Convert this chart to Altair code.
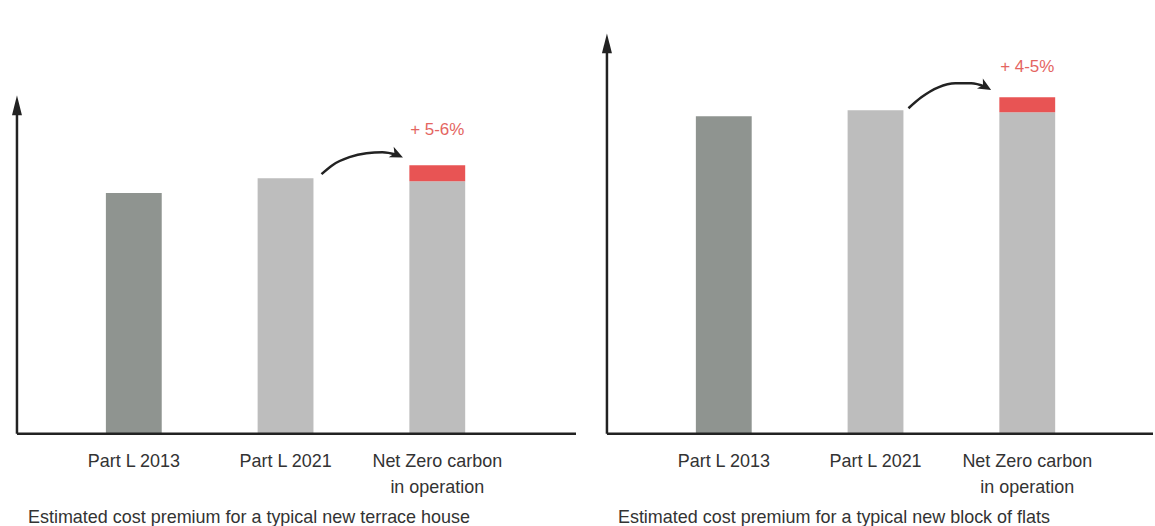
import altair as alt
import pandas as pd

# ---- data ----
categories = ["Part L 2013", "Part L 2021", "Net Zero carbon\nin operation"]
bar_colors = ["#8f9490", "#bdbdbd", "#bdbdbd"]
premium_color = "#e85454"

terrace_base = [241, 256, 253]
terrace_premium = [0, 0, 16]
terrace_pct = "+ 5-6%"
terrace_caption = "Estimated cost premium for a typical new terrace house"
terrace_axis_top = 339
terrace_pct_y = 304
terrace_arrow_x = [1.237, 1.309, 1.421, 1.533, 1.638, 1.735]
terrace_arrow_y = [260, 269, 277, 281, 282, 279.5]
terrace_arrow_angle = 25

flats_base = [318, 324, 322]
flats_premium = [0, 0, 15]
flats_pct = "+ 4-5%"
flats_caption = "Estimated cost premium for a typical new block of flats"
flats_axis_top = 401
flats_pct_y = 367
flats_arrow_x = [1.217, 1.302, 1.414, 1.526, 1.631, 1.725]
flats_arrow_y = [326, 337, 347, 351, 351, 347.5]
flats_arrow_angle = 30

FONT = "Liberation Sans"
INK = "#222222"
TEXT = "#333333"
PX_PER_UNIT = 152
LEFT = -0.77
HEIGHT = 414
HALF = 0.184


def panel(base, premium, pct, pct_y, caption, width, axis_top, ax, ay, angle):
    xs = alt.Scale(domain=[LEFT, width / PX_PER_UNIT + LEFT], nice=False, zero=False)
    ys = alt.Scale(domain=[0, HEIGHT], nice=False, zero=False)

    rows = []
    for i, (b, p) in enumerate(zip(base, premium)):
        rows.append(dict(x0=i - HALF, x1=i + HALF, y0=0, y1=b, color=bar_colors[i]))
        if p > 0:
            rows.append(dict(x0=i - HALF, x1=i + HALF, y0=b, y1=b + p, color=premium_color))
    bars = alt.Chart(pd.DataFrame(rows)).mark_bar().encode(
        x=alt.X("x0:Q", scale=xs, axis=None),
        x2="x1",
        y=alt.Y("y0:Q", scale=ys, axis=None),
        y2="y1",
        color=alt.Color("color:N", scale=None),
    )

    xend = width / PX_PER_UNIT + LEFT
    xaxis = alt.Chart(pd.DataFrame({"x0": [LEFT], "x1": [xend], "y0": [0]})).mark_rule(
        color=INK, strokeWidth=2.5).encode(
        x=alt.X("x0:Q", scale=xs, axis=None), x2="x1",
        y=alt.Y("y0:Q", scale=ys, axis=None))
    yaxis = alt.Chart(pd.DataFrame({"x0": [LEFT], "y0": [0], "y1": [axis_top - 12]})).mark_rule(
        color=INK, strokeWidth=2.5).encode(
        x=alt.X("x0:Q", scale=xs, axis=None),
        y=alt.Y("y0:Q", scale=ys, axis=None), y2="y1")
    yhead = alt.Chart(pd.DataFrame({"x0": [LEFT], "y0": [axis_top - 10]})).mark_point(
        shape="M0,-1L0.5,1L-0.5,1Z", size=400, filled=True, opacity=1, color=INK, strokeWidth=0).encode(
        x=alt.X("x0:Q", scale=xs, axis=None),
        y=alt.Y("y0:Q", scale=ys, axis=None))

    curve = alt.Chart(pd.DataFrame({"x0": ax, "y0": ay})).mark_line(
        interpolate="monotone", color=INK, strokeWidth=2.5).encode(
        x=alt.X("x0:Q", scale=xs, axis=None),
        y=alt.Y("y0:Q", scale=ys, axis=None))
    head = alt.Chart(pd.DataFrame({"x0": [ax[-1]], "y0": [ay[-1]]})).mark_point(
        shape="M1,0L-1,-0.9L-0.45,0L-1,0.9Z", size=169, filled=True, opacity=1, color=INK,
        strokeWidth=0, angle=angle).encode(
        x=alt.X("x0:Q", scale=xs, axis=None),
        y=alt.Y("y0:Q", scale=ys, axis=None))

    pct_text = alt.Chart(pd.DataFrame({"x0": [2], "y0": [pct_y], "t": [pct]})).mark_text(
        font=FONT, fontSize=17, color="#e4655f", baseline="middle", align="center").encode(
        x=alt.X("x0:Q", scale=xs, axis=None),
        y=alt.Y("y0:Q", scale=ys, axis=None),
        text="t:N")

    labels = alt.Chart(pd.DataFrame({"x0": [0, 1, 2], "t": categories})).mark_text(
        font=FONT, fontSize=18, color=TEXT, baseline="alphabetic", align="center",
        lineBreak="\n", lineHeight=26).encode(
        x=alt.X("x0:Q", scale=xs, axis=None),
        y=alt.value(HEIGHT + 33.5),
        text="t:N")

    cap = alt.Chart(pd.DataFrame({"t": [caption]})).mark_text(
        font=FONT, fontSize=18, color=TEXT, baseline="alphabetic", align="left").encode(
        x=alt.value(11), y=alt.value(HEIGHT + 89.5), text="t:N")

    return alt.layer(bars, xaxis, yaxis, yhead, curve, head, pct_text, labels, cap).properties(
        width=width, height=HEIGHT)


left = panel(terrace_base, terrace_premium, terrace_pct, terrace_pct_y, terrace_caption, 560,
             terrace_axis_top, terrace_arrow_x, terrace_arrow_y, terrace_arrow_angle)
right = panel(flats_base, flats_premium, flats_pct, flats_pct_y, flats_caption, 547,
              flats_axis_top, flats_arrow_x, flats_arrow_y, flats_arrow_angle)

chart = alt.hconcat(left, right, spacing=31, bounds="flush").properties(
    padding={"left": 12, "top": 20, "right": 0, "bottom": 0},
    background="white",
).configure_view(stroke=None)

chart.save("out.html", embed_options={"renderer": "svg", "actions": False})
